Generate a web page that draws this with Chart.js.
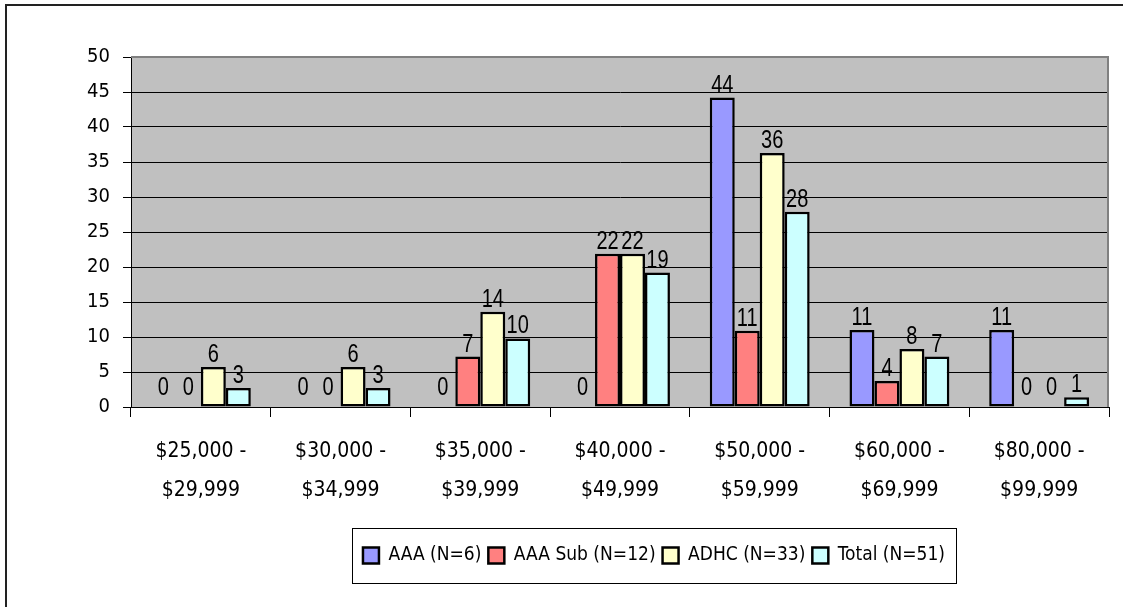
<!DOCTYPE html>
<html>
<head>
<meta charset="utf-8">
<script src="https://cdn.jsdelivr.net/npm/chart.js@4.4.1/dist/chart.umd.min.js"></script>
<style>
  html, body { margin: 0; padding: 0; background: #fff; }
  #wrap { width: 1123px; height: 607px; position: relative; }
</style>
</head>
<body>
<div id="wrap"><canvas id="incomeChart"></canvas></div>
<script>
// income ranges (two lines each, like the original axis)
const categories = [
    ["$25,000 -", "$29,999"],
    ["$30,000 -", "$34,999"],
    ["$35,000 -", "$39,999"],
    ["$40,000 -", "$49,999"],
    ["$50,000 -", "$59,999"],
    ["$60,000 -", "$69,999"],
    ["$80,000 -", "$99,999"]
];
const seriesNames = ["AAA (N=6)", "AAA Sub (N=12)", "ADHC (N=33)", "Total (N=51)"];
const aaa    = [0, 0, 0, 0, 44.2, 11.0, 11.0];
const aaaSub = [0, 0, 7.2, 21.9, 10.9, 3.7, 0];
const adhc   = [5.7, 5.7, 13.6, 21.9, 36.3, 8.3, 0];
const total  = [2.7, 2.7, 9.8, 19.2, 27.9, 7.2, 1.4];
const yMax = 50;
const yStep = 5;

const FONT = "'DejaVu Sans Condensed', 'Liberation Sans Narrow', sans-serif";
const PLOT_BOTTOM = 407;

const chartDecor = {
    id: "chartDecor",
    beforeDraw(chart) {
        const { ctx, chartArea: a, width, height } = chart;
        ctx.save();
        ctx.fillStyle = "#fff";
        ctx.fillRect(0, 0, width, height);
        // outer frame (only top and left are visible in the picture)
        ctx.strokeStyle = "#222";
        ctx.lineWidth = 2;
        ctx.beginPath();
        ctx.moveTo(6, height);
        ctx.lineTo(6, 5);
        ctx.lineTo(width, 5);
        ctx.stroke();
        // plot area
        ctx.fillStyle = "#c0c0c0";
        ctx.fillRect(a.left, a.top, a.right - a.left, a.bottom - a.top);
        ctx.restore();
    },
    beforeDatasetsDraw(chart) {
        const { ctx, chartArea: a } = chart;
        ctx.save();
        ctx.strokeStyle = "#808080";
        ctx.lineWidth = 2;
        ctx.beginPath();
        ctx.moveTo(a.left, a.top);
        ctx.lineTo(a.right - 1, a.top);
        ctx.lineTo(a.right - 1, a.bottom);
        ctx.stroke();
        ctx.restore();
    },
    afterDatasetsDraw(chart) {
        // value labels, narrow Arial-like face
        const ctx = chart.ctx;
        ctx.save();
        ctx.font = "25px 'Liberation Sans', Arial, sans-serif";
        ctx.fillStyle = "#000";
        ctx.textAlign = "center";
        ctx.textBaseline = "alphabetic";
        chart.data.datasets.forEach(function (ds, i) {
            chart.getDatasetMeta(i).data.forEach(function (bar, j) {
                const v = ds.data[j];
                const gap = v === 0 ? 12 : 5;
                ctx.save();
                ctx.translate(bar.x, bar.y - gap);
                ctx.scale(0.8, 1);
                ctx.fillText(String(Math.round(v)), 0, 0);
                ctx.restore();
            });
        });
        ctx.restore();
    },
    afterLayout(chart) {
        // legend sits below the axis labels, a bit right of centre
        const lg = chart.legend;
        const w = lg.width, h = lg.height;
        lg.left = 654 - w / 2;
        lg.right = lg.left + w;
        lg.top = 539;
        lg.bottom = lg.top + h;
    },
    afterDraw(chart) {
        const boxes = chart.legend.legendHitBoxes;
        if (!boxes || !boxes.length) return;
        let l = Infinity, r = -Infinity, t = Infinity, b = -Infinity;
        boxes.forEach(function (hb) {
            l = Math.min(l, hb.left);
            r = Math.max(r, hb.left + hb.width);
            t = Math.min(t, hb.top);
            b = Math.max(b, hb.top + hb.height);
        });
        const ctx = chart.ctx;
        ctx.save();
        ctx.strokeStyle = "#000";
        ctx.lineWidth = 1;
        ctx.strokeRect(Math.round(l - 11) + 0.5, Math.round(t - 18) + 0.5, Math.round(r - l + 22), Math.round(b - t + 36));
        ctx.restore();
    }
};

const ctx = document.getElementById("incomeChart").getContext("2d");

new Chart(ctx, {
    type: "bar",
    data: {
        labels: categories,
        datasets: [
            { label: seriesNames[0], data: aaa,    backgroundColor: "#9999ff" },
            { label: seriesNames[1], data: aaaSub, backgroundColor: "#ff8080" },
            { label: seriesNames[2], data: adhc,   backgroundColor: "#ffffcc" },
            { label: seriesNames[3], data: total,  backgroundColor: "#ccffff" }
        ]
    },
    options: {
        responsive: true,
        maintainAspectRatio: false,
        animation: false,
        datasets: {
            bar: {
                borderColor: "#000",
                borderWidth: 2.5,
                borderSkipped: false,
                categoryPercentage: 0.715,
                barPercentage: 1.0
            }
        },
        layout: {
            padding: { top: 57, right: 14, bottom: 0, left: 0 }
        },
        scales: {
            x: {
                grid: { drawOnChartArea: false, drawTicks: true, tickLength: 10, color: "#000", offset: true },
                border: { color: "#000", width: 1 },
                ticks: {
                    color: "#000",
                    font: { family: FONT, size: 21, lineHeight: 1.857 },
                    padding: 15,
                    maxRotation: 0,
                    autoSkip: false
                },
                afterFit: function (scale) {
                    const lg = scale.chart.legend;
                    scale.height = scale.chart.height - PLOT_BOTTOM - (lg ? lg.height : 0);
                }
            },
            y: {
                min: 0,
                max: yMax,
                ticks: {
                    stepSize: yStep,
                    color: "#000",
                    font: { family: FONT, size: 20 },
                    padding: 13
                },
                grid: { color: "#000", lineWidth: 1, tickLength: 8 },
                border: { color: "#000", width: 1 },
                afterFit: function (scale) { scale.width = 131; }
            }
        },
        plugins: {
            legend: {
                position: "bottom",
                labels: {
                    color: "#000",
                    boxWidth: 16,
                    boxHeight: 16,
                    padding: 7,
                    font: { family: FONT, size: 19 }
                }
            },
            tooltip: { enabled: false }
        }
    },
    plugins: [chartDecor]
});
</script>
</body>
</html>
